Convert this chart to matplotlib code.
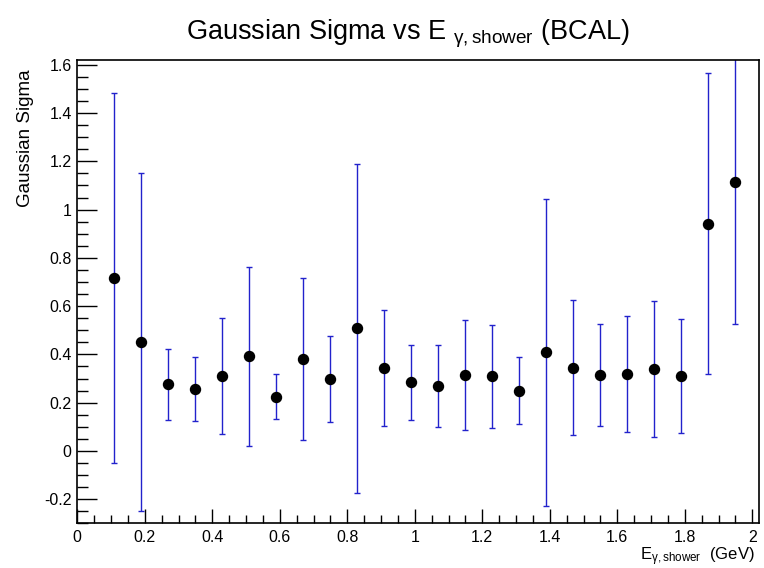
import matplotlib
matplotlib.use("Agg")
import matplotlib.pyplot as plt
from matplotlib.ticker import MultipleLocator, FuncFormatter

plt.rcParams['font.family'] = ['Liberation Sans', 'DejaVu Sans']
plt.rcParams['mathtext.fontset'] = 'custom'
plt.rcParams['mathtext.rm'] = 'Liberation Sans'
plt.rcParams['mathtext.it'] = 'Liberation Sans'
plt.rcParams['mathtext.bf'] = 'Liberation Sans:bold'

energy = [0.11, 0.19, 0.27, 0.35, 0.43, 0.51, 0.59, 0.67, 0.75, 0.83, 0.91, 0.99,
          1.07, 1.15, 1.23, 1.31, 1.39, 1.47, 1.55, 1.63, 1.71, 1.79, 1.87, 1.95]
sigma = [0.717, 0.451, 0.276, 0.256, 0.312, 0.392, 0.225, 0.381, 0.297, 0.508, 0.344, 0.284,
         0.269, 0.316, 0.309, 0.250, 0.409, 0.345, 0.316, 0.319, 0.340, 0.309, 0.942, 1.116]
sigma_err = [0.766, 0.701, 0.148, 0.133, 0.240, 0.372, 0.092, 0.335, 0.178, 0.681, 0.239, 0.156,
             0.171, 0.228, 0.212, 0.140, 0.636, 0.281, 0.211, 0.239, 0.281, 0.236, 0.624, 0.590]

W, H = 764, 568
fig = plt.figure(figsize=(W / 100, H / 100), dpi=100)
ax = fig.add_axes([77.3 / W, 1 - 523.3 / H, (759 - 77.3) / W, (523.3 - 60) / H])

ax.errorbar(energy, sigma, yerr=sigma_err, fmt='none', ecolor='#2222cc',
            elinewidth=1.0, capsize=2.0, capthick=1.0, zorder=2)
ax.plot(energy, sigma, 'o', color='black', markersize=7.2, zorder=3)

ax.set_xlim(0, 2.02)
ax.set_ylim(-0.3, 1.62)

ax.xaxis.set_major_locator(MultipleLocator(0.2))
ax.xaxis.set_minor_locator(MultipleLocator(0.05))
ax.yaxis.set_major_locator(MultipleLocator(0.2))
ax.yaxis.set_minor_locator(MultipleLocator(0.05))

def fmt(v, pos):
    s = ('%.1f' % v)
    if abs(v - round(v)) < 1e-9:
        s = '%d' % round(v)
    if s == '-0':
        s = '0'
    return s

ax.xaxis.set_major_formatter(FuncFormatter(fmt))
ax.yaxis.set_major_formatter(FuncFormatter(fmt))

ax.tick_params(axis='x', which='major', direction='in', length=10, width=1, labelsize=11.5, pad=5,
               top=False)
ax.tick_params(axis='x', which='minor', direction='in', length=5.8, width=1, top=False)
ax.tick_params(axis='y', which='major', direction='in', length=14.4, width=1, labelsize=11.5, pad=4,
               right=False)
ax.tick_params(axis='y', which='minor', direction='in', length=8, width=1, right=False)
for sp in ax.spines.values():
    sp.set_linewidth(1.2)

fig.text(408 / W, 1 - 40 / H, r'Gaussian Sigma vs E $_{\gamma\mathrm{,shower}}$ (BCAL)',
         ha='center', va='baseline', fontsize=19.5)
fig.text(26 / W, 1 - 69 / H, 'Gaussian Sigma', rotation=90, ha='center', va='top', fontsize=13.5)
fig.text(755 / W, 1 - 560 / H, r'E$_{\gamma\mathrm{,shower}}$  (GeV)', ha='right', va='baseline',
         fontsize=12)

fig.savefig('out.png', dpi=100)
